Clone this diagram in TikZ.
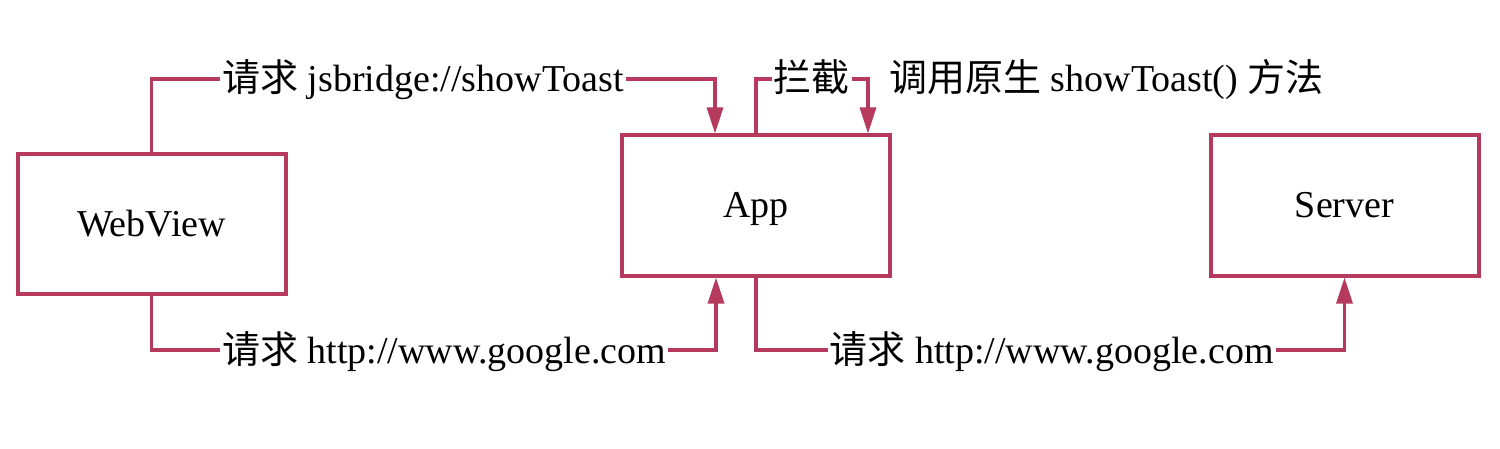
\documentclass[tikz,border=0pt]{standalone}
\usepackage{fontspec}
\setmainfont{Liberation Serif}
\newfontfamily\cjk{Noto Sans CJK SC}
\usetikzlibrary{arrows.meta,calc}
\definecolor{lc}{HTML}{B63A5E}
\begin{document}
\begin{tikzpicture}[x=0.5pt,y=-0.5pt,
  box/.style={draw=lc,line width=2pt,minimum width=134pt,minimum height=70pt,inner sep=0pt,text height=12.3pt,text depth=0pt,font=\fontsize{19}{23}\selectfont},
  conn/.style={draw=lc,line width=1.6pt,-{Triangle[length=13pt,width=8pt]}},
  lab/.style={fill=white,inner xsep=1pt,inner ysep=1pt,anchor=base,font=\fontsize{19}{23}\selectfont},
  plain/.style={inner sep=0pt,anchor=base west,font=\fontsize{19}{23}\selectfont}]
\useasboundingbox[fill=white] (0,0) rectangle (1500,449);
\node[box] (web) at (151.5,224) {WebView};
\node[box] (app) at (756,205.5) {App};
\node[box] (srv) at (1344.5,205.5) {Server};
\coordinate (toprow) at (0,79);
\coordinate (botrow) at (0,350);
\coordinate (appin1) at ($(app.north)+(-41,0)$);
\coordinate (appin2) at ($(app.north)+(112,0)$);
\coordinate (appin3) at ($(app.south)+(-40,0)$);
\draw[conn] (web.north) -- (web.north |- toprow) -| (appin1);
\draw[conn] (app.north) -- (app.north |- toprow) -| (appin2);
\draw[conn] (web.south) -- (web.south |- botrow) -| (appin3);
\draw[conn] (app.south) -- (app.south |- botrow) -| (srv.south);
\node[lab] (l1) at (423,92) {{\cjk 请求} jsbridge://showToast};
\node[lab] (l2) at (811.5,92) {{\cjk 拦截}};
\node[plain] (l3) at (889,92) {{\cjk 调用原生} showToast() {\cjk 方法}};
\node[lab] (l4) at (444,363) {{\cjk 请求} http://www.google.com};
\node[lab] (l5) at (1051.5,363) {{\cjk 请求} http://www.google.com};
\end{tikzpicture}
\end{document}
